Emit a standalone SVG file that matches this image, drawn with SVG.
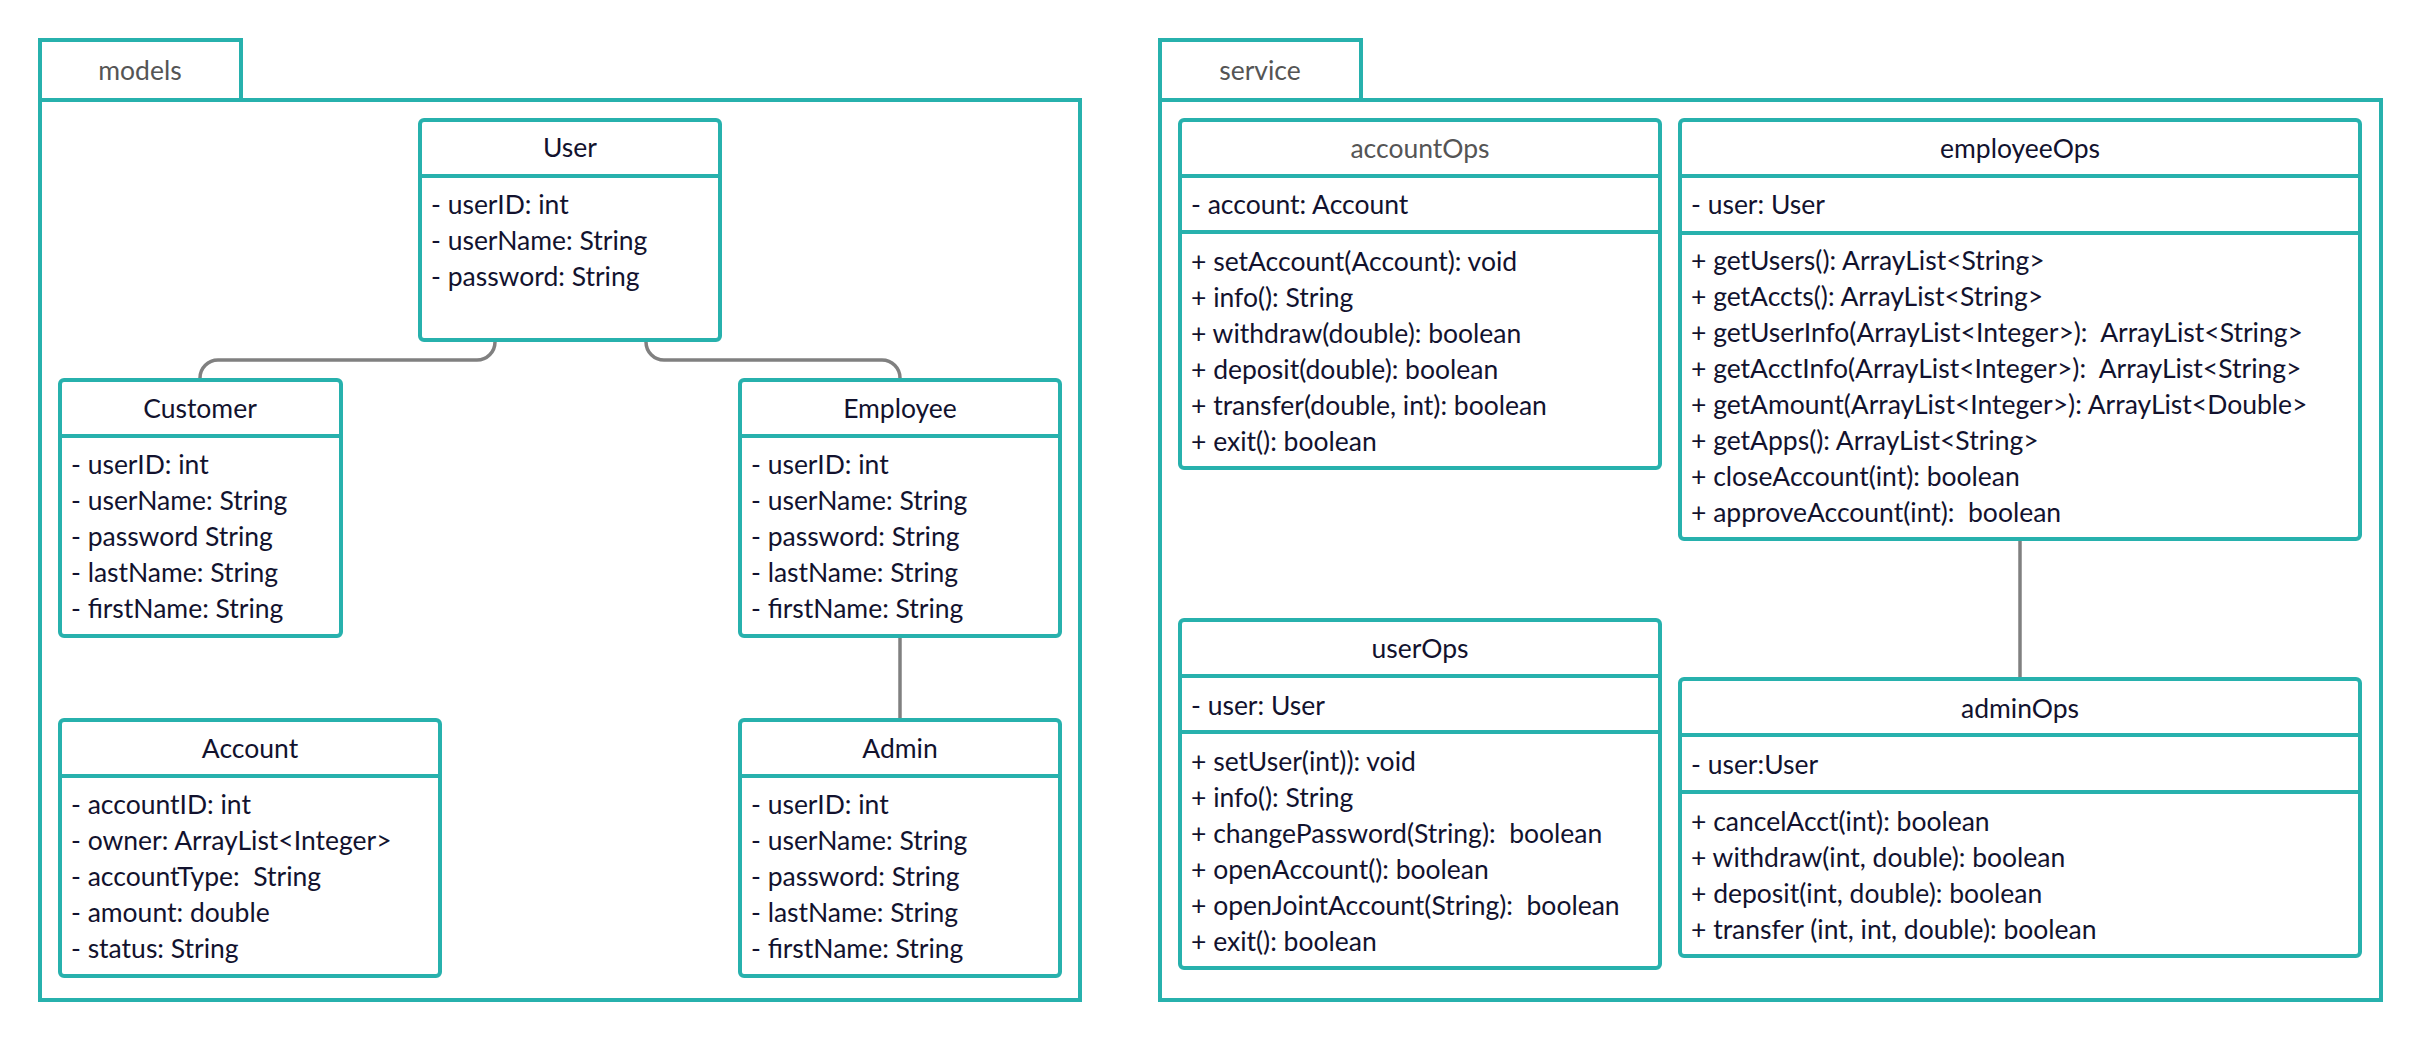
<svg xmlns="http://www.w3.org/2000/svg" width="2420" height="1041" viewBox="0 0 2420 1041">
<style>
.pkg{fill:none;stroke:#27B1AD;stroke-width:4}
.box{fill:#fff;stroke:#27B1AD;stroke-width:4}
.div{stroke:#27B1AD;stroke-width:4}
.t{font-family:Lato,"Liberation Sans",sans-serif;font-size:26.5px;fill:#12122e;white-space:pre}
.c{text-anchor:middle}
.g{fill:#555555}
.con{fill:none;stroke:#808080;stroke-width:3.5}
</style>
<rect width="2420" height="1041" fill="#fff"/>
<g id="pkg-models">
<rect class="pkg" x="40" y="40" width="201" height="60"/>
<rect class="pkg" x="40" y="100" width="1040" height="900"/>
<text class="t c g" x="140" y="80">models</text>
</g>
<g id="pkg-service">
<rect class="pkg" x="1160" y="40" width="201" height="60"/>
<rect class="pkg" x="1160" y="100" width="1221" height="900"/>
<text class="t c g" x="1260" y="80">service</text>
</g>
<g id="connectors">
<path class="con" d="M495,340 V342 A18,18 0 0 1 477,360 H218 A18,18 0 0 0 200,378 V380"/>
<path class="con" d="M646,340 V342 A18,18 0 0 0 664,360 H882 A18,18 0 0 1 900,378 V380"/>
<path class="con" d="M900,637 V719"/>
<path class="con" d="M2020,539 V679"/>
</g>
<g id="User">
<rect class="box" x="420" y="120" width="300" height="220" rx="4"/>
<line class="div" x1="420" y1="176" x2="720" y2="176"/>
<text class="t c" x="570" y="157">User</text>
<text class="t" x="431" y="214">- userID: int</text>
<text class="t" x="431" y="250">- userName: String</text>
<text class="t" x="431" y="286">- password: String</text>
</g>
<g id="Customer">
<rect class="box" x="60" y="380" width="281" height="256" rx="4"/>
<line class="div" x1="60" y1="436" x2="341" y2="436"/>
<text class="t c" x="200" y="418">Customer</text>
<text class="t" x="71" y="474">- userID: int</text>
<text class="t" x="71" y="510">- userName: String</text>
<text class="t" x="71" y="546">- password String</text>
<text class="t" x="71" y="582">- lastName: String</text>
<text class="t" x="71" y="618">- firstName: String</text>
</g>
<g id="Employee">
<rect class="box" x="740" y="380" width="320" height="256" rx="4"/>
<line class="div" x1="740" y1="436" x2="1060" y2="436"/>
<text class="t c" x="900" y="418">Employee</text>
<text class="t" x="751" y="474">- userID: int</text>
<text class="t" x="751" y="510">- userName: String</text>
<text class="t" x="751" y="546">- password: String</text>
<text class="t" x="751" y="582">- lastName: String</text>
<text class="t" x="751" y="618">- firstName: String</text>
</g>
<g id="Account">
<rect class="box" x="60" y="720" width="380" height="256" rx="4"/>
<line class="div" x1="60" y1="776" x2="440" y2="776"/>
<text class="t c" x="250" y="758">Account</text>
<text class="t" x="71" y="814">- accountID: int</text>
<text class="t" x="71" y="850">- owner: ArrayList&lt;Integer&gt;</text>
<text class="t" x="71" y="886">- accountType:  String</text>
<text class="t" x="71" y="922">- amount: double</text>
<text class="t" x="71" y="958">- status: String</text>
</g>
<g id="Admin">
<rect class="box" x="740" y="720" width="320" height="256" rx="4"/>
<line class="div" x1="740" y1="776" x2="1060" y2="776"/>
<text class="t c" x="900" y="758">Admin</text>
<text class="t" x="751" y="814">- userID: int</text>
<text class="t" x="751" y="850">- userName: String</text>
<text class="t" x="751" y="886">- password: String</text>
<text class="t" x="751" y="922">- lastName: String</text>
<text class="t" x="751" y="958">- firstName: String</text>
</g>
<g id="accountOps">
<rect class="box" x="1180" y="120" width="480" height="348" rx="4"/>
<line class="div" x1="1180" y1="176" x2="1660" y2="176"/>
<line class="div" x1="1180" y1="232" x2="1660" y2="232"/>
<text class="t c g" x="1420" y="158">accountOps</text>
<text class="t" x="1191" y="214">- account: Account</text>
<text class="t" x="1191" y="271">+ setAccount(Account): void</text>
<text class="t" x="1191" y="307">+ info(): String</text>
<text class="t" x="1191" y="343">+ withdraw(double): boolean</text>
<text class="t" x="1191" y="379">+ deposit(double): boolean</text>
<text class="t" x="1191" y="415">+ transfer(double, int): boolean</text>
<text class="t" x="1191" y="451">+ exit(): boolean</text>
</g>
<g id="employeeOps">
<rect class="box" x="1680" y="120" width="680" height="419" rx="4"/>
<line class="div" x1="1680" y1="176" x2="2360" y2="176"/>
<line class="div" x1="1680" y1="233" x2="2360" y2="233"/>
<text class="t c" x="2020" y="158">employeeOps</text>
<text class="t" x="1691" y="214">- user: User</text>
<text class="t" x="1691" y="270">+ getUsers(): ArrayList&lt;String&gt;</text>
<text class="t" x="1691" y="306">+ getAccts(): ArrayList&lt;String&gt;</text>
<text class="t" x="1691" y="342">+ getUserInfo(ArrayList&lt;Integer&gt;):  ArrayList&lt;String&gt;</text>
<text class="t" x="1691" y="378">+ getAcctInfo(ArrayList&lt;Integer&gt;):  ArrayList&lt;String&gt;</text>
<text class="t" x="1691" y="414">+ getAmount(ArrayList&lt;Integer&gt;): ArrayList&lt;Double&gt;</text>
<text class="t" x="1691" y="450">+ getApps(): ArrayList&lt;String&gt;</text>
<text class="t" x="1691" y="486">+ closeAccount(int): boolean</text>
<text class="t" x="1691" y="522">+ approveAccount(int):  boolean</text>
</g>
<g id="userOps">
<rect class="box" x="1180" y="620" width="480" height="348" rx="4"/>
<line class="div" x1="1180" y1="676" x2="1660" y2="676"/>
<line class="div" x1="1180" y1="732" x2="1660" y2="732"/>
<text class="t c" x="1420" y="658">userOps</text>
<text class="t" x="1191" y="715">- user: User</text>
<text class="t" x="1191" y="771">+ setUser(int)): void</text>
<text class="t" x="1191" y="807">+ info(): String</text>
<text class="t" x="1191" y="843">+ changePassword(String):  boolean</text>
<text class="t" x="1191" y="879">+ openAccount(): boolean</text>
<text class="t" x="1191" y="915">+ openJointAccount(String):  boolean</text>
<text class="t" x="1191" y="951">+ exit(): boolean</text>
</g>
<g id="adminOps">
<rect class="box" x="1680" y="679" width="680" height="277" rx="4"/>
<line class="div" x1="1680" y1="735" x2="2360" y2="735"/>
<line class="div" x1="1680" y1="792" x2="2360" y2="792"/>
<text class="t c" x="2020" y="718">adminOps</text>
<text class="t" x="1691" y="774">- user:User</text>
<text class="t" x="1691" y="831">+ cancelAcct(int): boolean</text>
<text class="t" x="1691" y="867">+ withdraw(int, double): boolean</text>
<text class="t" x="1691" y="903">+ deposit(int, double): boolean</text>
<text class="t" x="1691" y="939">+ transfer (int, int, double): boolean</text>
</g>
</svg>
